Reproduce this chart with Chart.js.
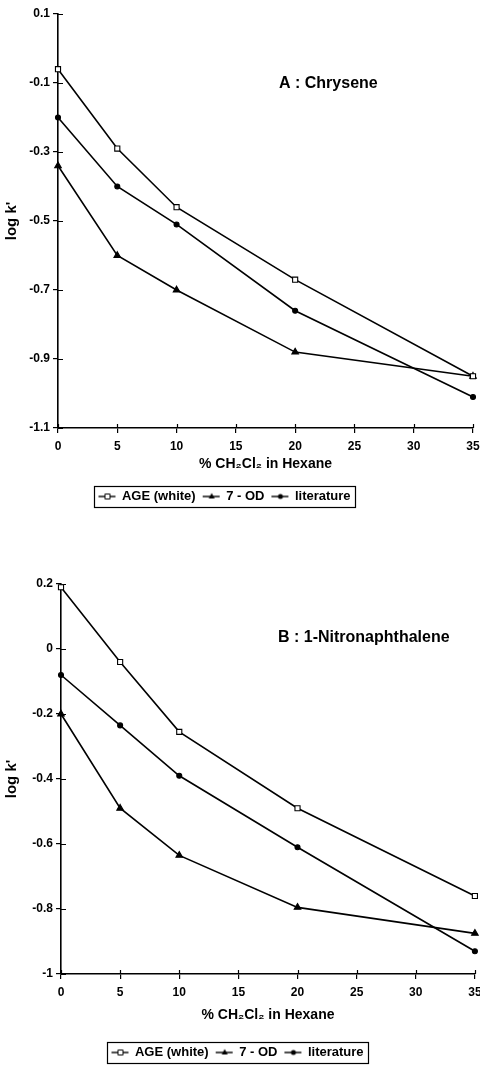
<!DOCTYPE html>
<html>
<head>
<meta charset="utf-8">
<script src="https://cdn.jsdelivr.net/npm/chart.js@4.4.0/dist/chart.umd.min.js"></script>
<style>
  html, body { margin: 0; padding: 0; background: #fff; overflow: hidden; }
  .wrap { position: absolute; left: 0; width: 480px; }
</style>
</head>
<body>
<div class="wrap" style="top:0"><canvas id="chartA" width="480" height="513"></canvas></div>
<div class="wrap" style="top:540px"><canvas id="chartB" width="480" height="529"></canvas></div>
<script>
// % CH2Cl2 in hexane
var xValues = [0, 5, 10, 20, 35];
var xTicks = [0, 5, 10, 15, 20, 25, 30, 35];
var seriesNames = ['AGE (white)', '7 - OD', 'literature'];

// A : Chrysene
var ageA = [-0.06, -0.29, -0.46, -0.67, -0.95];
var odA = [-0.34, -0.60, -0.70, -0.88, -0.95];
var litA = [-0.20, -0.40, -0.51, -0.76, -1.01];
var yTicksA = [0.1, -0.1, -0.3, -0.5, -0.7, -0.9, -1.1];
var yLabelsA = ['0.1', '-0.1', '-0.3', '-0.5', '-0.7', '-0.9', '-1.1'];

// B : 1-Nitronaphthalene
var ageB = [0.19, -0.04, -0.255, -0.49, -0.76];
var odB = [-0.20, -0.49, -0.635, -0.795, -0.875];
var litB = [-0.08, -0.235, -0.39, -0.61, -0.93];
var yTicksB = [0.2, 0, -0.2, -0.4, -0.6, -0.8, -1];
var yLabelsB = ['0.2', '0', '-0.2', '-0.4', '-0.6', '-0.8', '-1'];

var FONT = '"Liberation Sans", Arial, sans-serif';
Chart.defaults.font.family = FONT;
Chart.defaults.font.weight = 'bold';
Chart.defaults.color = '#000';

function pts(ys) {
  return xValues.map(function (x, i) { return { x: x, y: ys[i] }; });
}

// little "line + marker" picture for the legend
function icon(kind) {
  var c = document.createElement('canvas');
  c.width = 22; c.height = 10;
  var g = c.getContext('2d');
  g.strokeStyle = '#000'; g.fillStyle = '#000'; g.lineWidth = 1.4;
  g.beginPath(); g.moveTo(3, 5); g.lineTo(20, 5); g.stroke();
  g.beginPath();
  if (kind === 'rect') {
    g.fillStyle = '#fff';
    g.rect(9.5, 2.5, 5, 5); g.fill(); g.lineWidth = 1; g.stroke();
  } else if (kind === 'triangle') {
    g.moveTo(12, 1.5); g.lineTo(15, 7); g.lineTo(9, 7); g.closePath(); g.fill();
  } else {
    g.arc(12, 5, 2.5, 0, Math.PI * 2); g.fill();
  }
  return c;
}

var markers = [
  { pointStyle: 'rect', pointRadius: 3.6, pointBackgroundColor: '#fff' },
  { pointStyle: 'triangle', pointRadius: 3.8, pointBackgroundColor: '#000' },
  { pointStyle: 'circle', pointRadius: 2.5, pointBackgroundColor: '#000' }
];
var icons = [icon('rect'), icon('triangle'), icon('circle')];

// short ticks on the inner side of both axes
var innerTicks = {
  id: 'innerTicks',
  beforeDatasetsDraw: function (chart) {
    var c = chart.ctx, xs = chart.scales.x, ys = chart.scales.y;
    c.save();
    c.strokeStyle = '#000'; c.lineWidth = 1.2;
    c.beginPath();
    xs.ticks.forEach(function (t) {
      var px = Math.round(xs.getPixelForValue(t.value)) + 0.5;
      c.moveTo(px, xs.top); c.lineTo(px, xs.top - 4);
    });
    ys.ticks.forEach(function (t) {
      var py = Math.round(ys.getPixelForValue(t.value)) + 0.5;
      c.moveTo(ys.right, py); c.lineTo(ys.right + 5, py);
    });
    c.stroke();
    c.restore();
  }
};

// boxed legend, shifted to its own centre
var legendFrame = {
  id: 'legendFrame',
  afterLayout: function (chart, args, o) {
    var lg = chart.legend;
    lg.right = 2 * o.center - lg.left - lg.options.labels.padding;
  },
  afterDraw: function (chart) {
    var hb = chart.legend.legendHitBoxes;
    if (!hb || !hb.length) return;
    var last = hb[hb.length - 1];
    var l = hb[0].left, r = last.left + last.width, t = hb[0].top;
    var c = chart.ctx;
    c.save();
    c.strokeStyle = '#000'; c.lineWidth = 1.2;
    c.strokeRect(Math.round(l - 3) + 0.5, Math.round(t - 4) + 0.5, Math.round(r - l + 8), Math.round(hb[0].height + 8));
    c.restore();
  }
};

var notePlugin = {
  id: 'note',
  afterDraw: function (chart, args, o) {
    var c = chart.ctx;
    c.save();
    c.font = 'bold 16px ' + FONT;
    c.fillStyle = '#000';
    c.textBaseline = 'middle';
    c.fillText(o.text, o.x, o.y);
    c.restore();
  }
};

function makeChart(id, series, yTicks, yLabels, lay) {
  var axisGrid = { drawOnChartArea: false, drawTicks: true, tickLength: 5, tickColor: '#000', lineWidth: 1.2 };
  var axisBorder = { display: true, color: '#000', width: 1.6 };
  return new Chart(document.getElementById(id), {
    type: 'line',
    data: {
      datasets: series.map(function (ys, i) {
        return Object.assign({
          label: seriesNames[i],
          data: pts(ys),
          borderColor: '#000',
          borderWidth: 1.6,
          pointBorderColor: '#000',
          pointBorderWidth: 1.1,
          tension: 0,
          fill: false,
          clip: false
        }, markers[i]);
      })
    },
    options: {
      responsive: false,
      animation: false,
      layout: { padding: { top: lay.top, right: lay.right, left: 0, bottom: 0 } },
      scales: {
        x: {
          type: 'linear', min: 0, max: 35,
          afterBuildTicks: function (s) { s.ticks = xTicks.map(function (v) { return { value: v }; }); },
          afterFit: function (s) { s.height = lay.xHeight; s.paddingRight = 0; s.paddingLeft = 0; },
          ticks: { font: { size: 12, weight: 'bold' }, color: '#000', padding: 6, maxRotation: 0, autoSkip: false,
                   callback: function (v) { return String(v); } },
          grid: axisGrid,
          border: axisBorder,
          title: { display: true, text: '% CH\u2082Cl\u2082 in Hexane', color: '#000',
                   font: { size: 14, weight: 'bold' }, padding: { top: 0, bottom: lay.titlePad } }
        },
        y: {
          type: 'linear', min: yTicks[yTicks.length - 1], max: yTicks[0],
          afterBuildTicks: function (s) { s.ticks = yTicks.map(function (v) { return { value: v }; }); },
          afterFit: function (s) { s.width = lay.yWidth; },
          ticks: { font: { size: 12, weight: 'bold' }, color: '#000', padding: 3, autoSkip: false,
                   callback: function (v, i) { return yLabels[i]; } },
          grid: axisGrid,
          border: axisBorder,
          title: { display: true, text: "log k'", color: '#000',
                   font: { size: 15, weight: 'bold' }, padding: { top: 3, bottom: 0 } }
        }
      },
      plugins: {
        tooltip: { enabled: false },
        legend: {
          position: 'bottom',
          align: 'center',
          labels: {
            usePointStyle: true,
            pointStyleWidth: 18,
            padding: 6,
            color: '#000',
            font: { size: 13, weight: 'bold' },
            generateLabels: function (chart) {
              return Chart.defaults.plugins.legend.labels.generateLabels(chart).map(function (it, i) {
                it.pointStyle = icons[i];
                return it;
              });
            }
          }
        },
        legendFrame: { center: lay.legendCenter },
        note: { text: lay.note, x: lay.noteX, y: lay.noteY }
      }
    },
    plugins: [innerTicks, legendFrame, notePlugin]
  });
}

makeChart('chartA', [ageA, odA, litA], yTicksA, yLabelsA, {
  top: 14, right: 7, yWidth: 58, xHeight: 56, titlePad: 11, legendCenter: 227,
  note: 'A : Chrysene', noteX: 279, noteY: 84
});

makeChart('chartB', [ageB, odB, litB], yTicksB, yLabelsB, {
  top: 44, right: 4, yWidth: 61, xHeight: 66, titlePad: 16, legendCenter: 240,
  note: 'B : 1-Nitronaphthalene', noteX: 278, noteY: 98
});
</script>
</body>
</html>
